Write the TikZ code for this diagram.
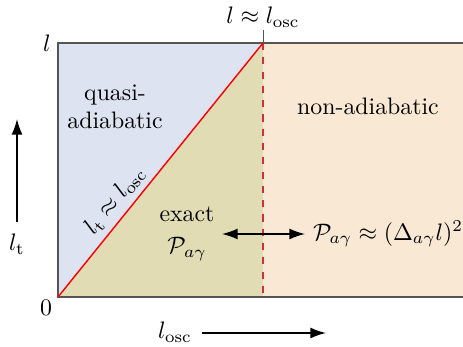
\documentclass[tikz,border=0pt]{standalone}
\usepackage{amsmath}
\usetikzlibrary{arrows.meta,positioning}
\definecolor{quasiblue}{HTML}{DDE3F0}
\definecolor{exactolive}{HTML}{E1DCB4}
\definecolor{nonadpeach}{HTML}{F9E9D4}
\definecolor{framegray}{HTML}{555555}
\definecolor{dashred}{HTML}{C8323C}

\begin{document}
\begin{tikzpicture}[
 x=0.42pt,y=-0.42pt,
 frame/.style={draw=framegray,semithick},
 arrow/.style={-{Latex[length=2.3mm,width=1.6mm]},semithick,draw=black},
 darrow/.style={{Latex[length=2.3mm,width=1.6mm]}-{Latex[length=2.3mm,width=1.6mm]},semithick,draw=black},
 lbl/.style={inner sep=1pt,align=center,text=black}
]
\useasboundingbox (0,0) rectangle (463,347);
% corners of the diagram
\coordinate (origin) at (58,297);
\coordinate (topleft) at (58,43);
\coordinate (corner) at (263,43);
\coordinate (foot) at (263,297);
\coordinate (tick) at (263,30);
% regions
\fill[quasiblue] (origin)--(topleft)--(corner)--cycle;
\fill[exactolive] (origin)--(corner)--(foot)--cycle;
\fill[nonadpeach] (corner) rectangle (463,297);
\draw[frame] (463,43)--(topleft)--(origin)--(463,297);
\draw[framegray,thin] (tick)--(corner);
\draw[dashred,semithick,dashed] (corner)--(foot);
\draw[red,semithick] (origin)--node[above,sloped,pos=0.34,lbl,inner sep=2.5pt]{$l_\mathrm{t}\approx l_\mathrm{osc}$} (corner);
% labels
\node[lbl] (lmax) at (47,43) {$l$};
\node[lbl] (zero) at (46,308) {$0$};
\node[lbl,above=0pt of tick] (lcross) {$l\approx l_\mathrm{osc}$};
\node[lbl] (quasi) at (115,107) {quasi-\\adiabatic};
\node[lbl] (nonad) at (368,106) {non-adiabatic};
\node[lbl] (exact) at (187,234) {exact\\[1.5pt]$\mathcal{P}_{a\gamma}$};
\node[lbl] (approx) at (388,234) {$\mathcal{P}_{a\gamma}\approx(\Delta_{a\gamma}l)^2$};
\coordinate (dleft) at (222,234);
\coordinate (dright) at (305,234);
\draw[darrow] (dleft)--(dright);
% axes
\node[lbl] (lt) at (17,244) {$l_\mathrm{t}$};
\coordinate (ltail) at (17,222);
\coordinate (lhead) at (17,119);
\draw[arrow] (ltail)--(lhead);
\node[lbl] (losc) at (175,332) {$l_\mathrm{osc}$};
\coordinate (otail) at (202,333);
\coordinate (ohead) at (326,333);
\draw[arrow] (otail)--(ohead);
\end{tikzpicture}
\end{document}
